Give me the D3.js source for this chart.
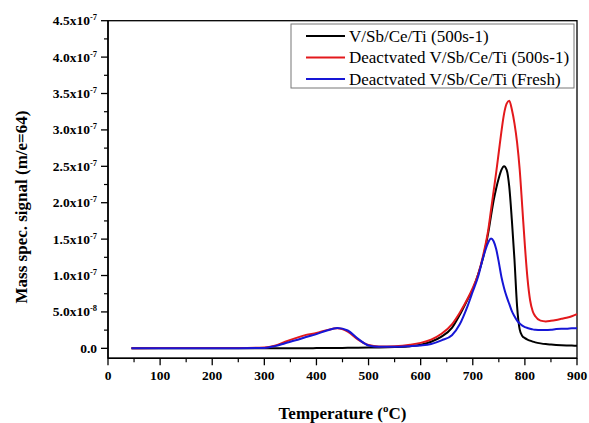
<!DOCTYPE html>
<html>
<head>
<meta charset="utf-8">
<script src="https://cdn.jsdelivr.net/npm/d3@7"></script>
<style>
  html, body { margin: 0; padding: 0; background: #fff; }
  svg { display: block; }
</style>
</head>
<body>
<svg id="chart" width="589" height="423"></svg>
<script>
// ---- Data (values in units of 1e-8) ----
const temps = [45, 100, 150, 200, 250, 300, 320, 340, 360, 380, 400, 420, 440, 460, 480, 500, 520, 550, 580, 600, 620, 640, 660, 675, 690, 700, 710, 720, 730, 735, 740, 745, 750, 755, 760, 765, 770, 775, 780, 785, 790, 795, 800, 805, 810, 815, 820, 830, 840, 850, 860, 870, 880, 890, 900];

const blackVals = [0, 0, 0, 0, 0, 0, 0, 0, 0, 0.02, 0.03, 0.04, 0.05, 0.07, 0.08, 0.1, 0.12, 0.18, 0.3, 0.5, 0.9, 1.6, 2.8, 4.6, 6.7, 8.1, 10.1, 12.5, 16.0, 18.2, 20.3, 22.0, 23.4, 24.5, 25.0, 24.5, 22.2, 17.6, 12.2, 5.8, 2.6, 1.7, 1.4, 1.2, 1.05, 0.92, 0.82, 0.68, 0.58, 0.52, 0.47, 0.43, 0.4, 0.38, 0.36];

const redVals = [0, 0.05, 0.05, 0.05, 0.05, 0.1, 0.35, 0.9, 1.4, 1.85, 2.1, 2.5, 2.75, 2.3, 1.2, 0.45, 0.25, 0.3, 0.5, 0.75, 1.2, 2.0, 3.3, 4.9, 6.8, 8.3, 10.1, 12.8, 16.4, 19.0, 21.6, 24.2, 27.0, 29.8, 32.2, 33.6, 34.0, 32.8, 30.9, 28.3, 24.6, 19.4, 14.1, 9.6, 6.6, 5.1, 4.4, 3.8, 3.7, 3.78, 3.9, 4.05, 4.2, 4.4, 4.7];

const blueVals = [0, 0.02, 0.02, 0.02, 0.02, 0.05, 0.3, 0.7, 1.1, 1.55, 1.95, 2.45, 2.8, 2.45, 1.3, 0.4, 0.2, 0.2, 0.3, 0.4, 0.6, 1.1, 1.8, 3.3, 5.8, 7.8, 9.8, 12.5, 14.6, 15.1, 14.7, 13.6, 11.8, 9.8, 8.3, 7.1, 6.1, 5.1, 4.4, 3.8, 3.4, 3.12, 2.92, 2.8, 2.7, 2.6, 2.55, 2.5, 2.5, 2.55, 2.65, 2.7, 2.7, 2.75, 2.75];

const seriesNames = ["V/Sb/Ce/Ti (500s-1)", "Deactvated V/Sb/Ce/Ti (500s-1)", "Deactvated V/Sb/Ce/Ti (Fresh)"];
const seriesColors = ["#000000", "#e3191c", "#1616d6"];

const xTicks = [0, 100, 200, 300, 400, 500, 600, 700, 800, 900];
const yTicks = [0, 5, 10, 15, 20, 25, 30, 35, 40, 45];
const yTickMantissa = ["0.0", "5.0x10", "1.0x10", "1.5x10", "2.0x10", "2.5x10", "3.0x10", "3.5x10", "4.0x10", "4.5x10"];
const yTickExponent = ["", "-8", "-7", "-7", "-7", "-7", "-7", "-7", "-7", "-7"];

// ---- Layout ----
const svg = d3.select("#chart");
const L = 108, R = 577, T = 20.7, B = 358.3;
const x = d3.scaleLinear().domain([0, 900]).range([L, R]);
const y = d3.scaleLinear().domain([-1.37, 45]).range([B, T]);
const font = "'Liberation Serif', 'Times New Roman', serif";

// frame (top & right)
svg.append("rect").attr("x", L).attr("y", T).attr("width", R - L).attr("height", B - T)
  .attr("fill", "none").attr("stroke", "#000").attr("stroke-width", 1.3);

// x axis
const xAxis = svg.append("g").attr("transform", `translate(0,${B})`);
xAxis.append("line").attr("x1", L).attr("x2", R).attr("stroke", "#000").attr("stroke-width", 1.5);
const xMinor = d3.range(50, 900, 100);
xAxis.selectAll(".xmaj").data(xTicks).enter().append("line")
  .attr("x1", d => x(d)).attr("x2", d => x(d)).attr("y1", 0).attr("y2", 7)
  .attr("stroke", "#000").attr("stroke-width", 1.3);
xAxis.selectAll(".xmin").data(xMinor).enter().append("line")
  .attr("x1", d => x(d)).attr("x2", d => x(d)).attr("y1", 0).attr("y2", 4)
  .attr("stroke", "#000").attr("stroke-width", 1.2);
xAxis.selectAll(".xlab").data(xTicks).enter().append("text")
  .attr("x", d => x(d)).attr("y", 22).attr("text-anchor", "middle")
  .attr("font-family", font).attr("font-weight", "bold").attr("font-size", 13.5)
  .text(d => d);

// y axis
const yAxis = svg.append("g");
yAxis.append("line").attr("x1", L).attr("x2", L).attr("y1", T).attr("y2", B).attr("stroke", "#000").attr("stroke-width", 1.5);
const yMinor = d3.range(2.5, 45, 5);
yAxis.selectAll(".ymaj").data(yTicks).enter().append("line")
  .attr("x1", L - 7).attr("x2", L).attr("y1", d => y(d)).attr("y2", d => y(d))
  .attr("stroke", "#000").attr("stroke-width", 1.3);
yAxis.selectAll(".ymin").data(yMinor).enter().append("line")
  .attr("x1", L - 4).attr("x2", L).attr("y1", d => y(d)).attr("y2", d => y(d))
  .attr("stroke", "#000").attr("stroke-width", 1.2);
const yLab = yAxis.selectAll(".ylab").data(yTicks).enter().append("text")
  .attr("x", 97).attr("y", d => y(d) + 4.5).attr("text-anchor", "end")
  .attr("font-family", font).attr("font-weight", "bold").attr("font-size", 13.5);
yLab.append("tspan").text((d, i) => yTickMantissa[i]);
yLab.append("tspan").attr("dy", -5).attr("font-size", 8.5).text((d, i) => yTickExponent[i]);

// axis titles
const xt = svg.append("text").attr("x", (L + R) / 2).attr("y", 419).attr("text-anchor", "middle")
  .attr("font-family", font).attr("font-weight", "bold").attr("font-size", 17);
xt.append("tspan").text("Temperature (");
xt.append("tspan").attr("dy", -7).attr("font-size", 11).text("o");
xt.append("tspan").attr("dy", 7).text("C)");

svg.append("text").attr("transform", "translate(27,207) rotate(-90)").attr("text-anchor", "middle")
  .attr("font-family", font).attr("font-weight", "bold").attr("font-size", 17)
  .text("Mass spec. signal (m/e=64)");

// lines
const allVals = [blackVals, redVals, blueVals];
const line = d3.line().x((d, i) => x(temps[i])).y(d => y(d)).curve(d3.curveMonotoneX);
allVals.forEach((vals, k) => {
  svg.append("path").datum(vals).attr("d", line)
    .attr("fill", "none").attr("stroke", seriesColors[k]).attr("stroke-width", 2)
    .attr("stroke-linejoin", "round");
});

// legend
const lg = svg.append("g");
lg.append("rect").attr("x", 291).attr("y", 24).attr("width", 283).attr("height", 64)
  .attr("fill", "#fff").attr("stroke", "#777").attr("stroke-width", 1);
seriesNames.forEach((name, k) => {
  const cy = 36 + k * 21.5;
  lg.append("line").attr("x1", 306).attr("x2", 345).attr("y1", cy).attr("y2", cy)
    .attr("stroke", seriesColors[k]).attr("stroke-width", 2);
  lg.append("text").attr("x", 349).attr("y", cy + 5.5)
    .attr("font-family", font).attr("font-size", 17).text(name);
});
</script>
</body>
</html>
